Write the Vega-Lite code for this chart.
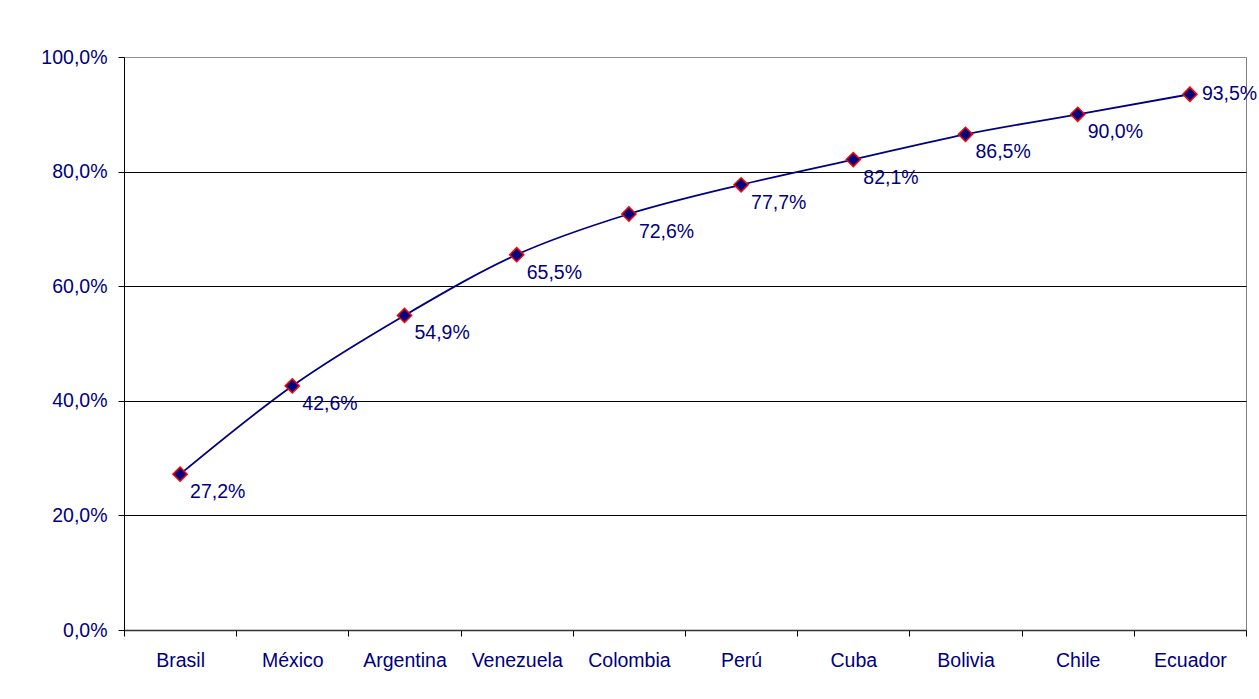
{
  "$schema": "https://vega.github.io/schema/vega-lite/v6.json",
  "width": 1122,
  "height": 573,
  "autosize": {"type": "none"},
  "padding": {"left": 124, "top": 57, "right": 13, "bottom": 69},
  "background": "white",
  "config": {
    "locale": {"number": {"decimal": ",", "thousands": ".", "grouping": [3], "currency": ["", " €"]}},
    "font": "Liberation Sans",
    "view": {"stroke": "#808080", "strokeWidth": 1}
  },
  "data": {
    "values": [
      {"pais": "Brasil", "valor": 0.272},
      {"pais": "México", "valor": 0.426},
      {"pais": "Argentina", "valor": 0.549},
      {"pais": "Venezuela", "valor": 0.655},
      {"pais": "Colombia", "valor": 0.726},
      {"pais": "Perú", "valor": 0.777},
      {"pais": "Cuba", "valor": 0.821},
      {"pais": "Bolivia", "valor": 0.865},
      {"pais": "Chile", "valor": 0.900},
      {"pais": "Ecuador", "valor": 0.935}
    ]
  },
  "encoding": {
    "x": {
      "field": "pais", "type": "nominal", "sort": null,
      "scale": {"paddingInner": 0, "paddingOuter": 0},
      "axis": {
        "title": null, "labelAngle": 0, "tickBand": "extent",
        "labelFont": "Liberation Sans", "labelFontSize": 19.5, "labelColor": "#000080",
        "labelPadding": 15, "tickSize": 6, "tickColor": "#000000",
        "domainColor": "#333333", "domainWidth": 1.5, "grid": false
      }
    },
    "y": {
      "field": "valor", "type": "quantitative",
      "scale": {"domain": [0, 1], "nice": false},
      "axis": {
        "title": null, "values": [0, 0.2, 0.4, 0.6, 0.8, 1.0], "format": ".1%",
        "labelFont": "Liberation Sans", "labelFontSize": 19.5, "labelColor": "#000080",
        "labelPadding": 11, "tickSize": 6, "tickColor": "#000000",
        "domainColor": "#000000", "grid": true,
        "gridColor": {"condition": {"test": "datum.value >= 1", "value": "#909090"}, "value": "#000000"},
        "gridOpacity": 1, "gridWidth": 1
      }
    }
  },
  "layer": [
    {"mark": {"type": "line", "color": "#000080", "strokeWidth": 1.8, "interpolate": "monotone"}},
    {"mark": {"type": "point", "shape": "diamond", "filled": true, "fill": "#000080", "stroke": "#ff0000", "strokeWidth": 1.5, "size": 200, "opacity": 1}},
    {
      "transform": [{"filter": "datum.pais != 'Ecuador'"}],
      "mark": {"type": "text", "align": "left", "baseline": "middle", "dx": 10, "dy": 18, "fontSize": 19.5, "color": "#000080", "font": "Liberation Sans"},
      "encoding": {"text": {"field": "valor", "type": "quantitative", "format": ".1%"}}
    },
    {
      "transform": [{"filter": "datum.pais == 'Ecuador'"}],
      "mark": {"type": "text", "align": "left", "baseline": "middle", "dx": 12, "dy": 0, "fontSize": 19.5, "color": "#000080", "font": "Liberation Sans"},
      "encoding": {"text": {"field": "valor", "type": "quantitative", "format": ".1%"}}
    }
  ]
}
